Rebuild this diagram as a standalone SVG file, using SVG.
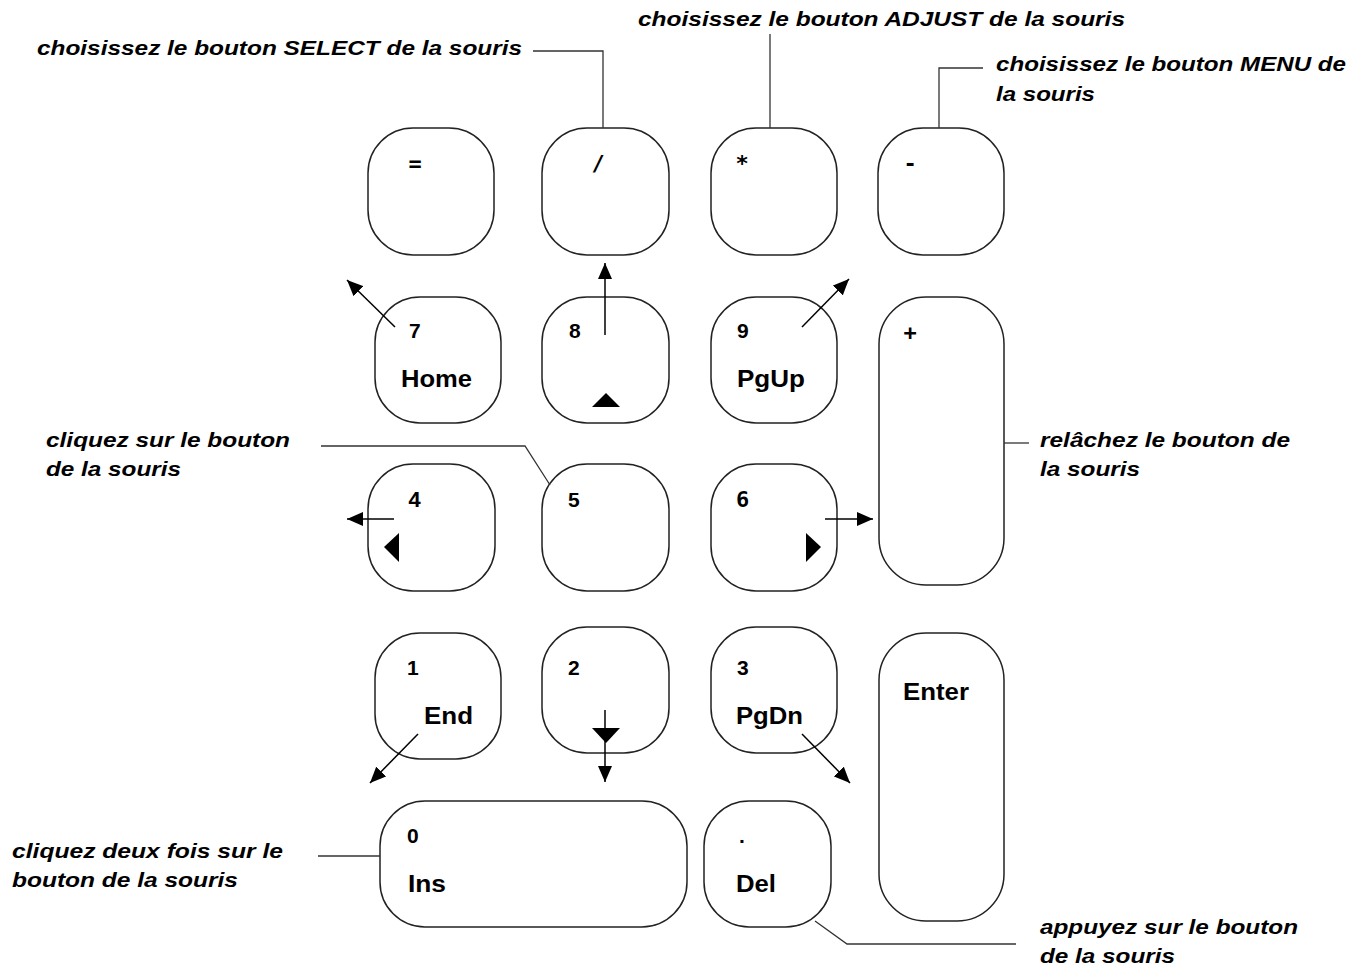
<svg xmlns="http://www.w3.org/2000/svg" width="1363" height="969" viewBox="0 0 1363 969">
<style>
.key{fill:#fff;stroke:#222;stroke-width:1.5}
.sym{font-family:"DejaVu Sans Mono","Liberation Mono",monospace;font-weight:bold;font-size:22px;fill:#000}
.dig{font-family:"Liberation Sans",Arial,sans-serif;font-weight:bold;font-size:21px;fill:#000}
.word{font-family:"Liberation Sans",Arial,sans-serif;font-weight:bold;font-size:23px;fill:#000}
.lbl{font-family:"Liberation Sans",Arial,sans-serif;font-weight:bold;font-style:italic;font-size:21px;fill:#000}
.lead{fill:none;stroke:#333;stroke-width:1.3}
.arr{fill:none;stroke:#000;stroke-width:1.5;marker-end:url(#ah)}
.tri{fill:#000}
</style>
<defs>
<marker id="ah" markerUnits="userSpaceOnUse" markerWidth="16" markerHeight="14" viewBox="0 0 16 14" refX="16" refY="7" orient="auto">
<path d="M0,0 L16,7 L0,14 z" fill="#000"/>
</marker>
</defs>
<rect width="1363" height="969" fill="#fff"/>

<g id="key-eq"><rect class="key" x="368" y="128" width="126" height="127" rx="45"/><text class="sym" x="415" y="171" text-anchor="middle">=</text></g>
<g id="key-slash"><rect class="key" x="542" y="128" width="127" height="127" rx="45"/><text class="sym" x="598" y="171" text-anchor="middle">/</text></g>
<g id="key-star"><rect class="key" x="711" y="128" width="126" height="127" rx="45"/><text class="sym" x="742" y="171" text-anchor="middle">*</text></g>
<g id="key-minus"><rect class="key" x="878" y="128" width="126" height="127" rx="45"/><text class="sym" x="910" y="171" text-anchor="middle">-</text></g>

<g id="key-7"><rect class="key" x="375" y="297" width="126" height="126" rx="45"/><text class="dig" x="409" y="338">7</text><text class="word" x="401" y="387" textLength="71" lengthAdjust="spacingAndGlyphs">Home</text></g>
<g id="key-8"><rect class="key" x="542" y="297" width="127" height="126" rx="45"/><text class="dig" x="569" y="338">8</text><polygon class="tri" points="592,407 620,407 606,393"/></g>
<g id="key-9"><rect class="key" x="711" y="297" width="126" height="126" rx="45"/><text class="dig" x="737" y="338">9</text><text class="word" x="737" y="387" textLength="68" lengthAdjust="spacingAndGlyphs">PgUp</text></g>
<g id="key-plus"><rect class="key" x="879" y="297" width="125" height="288" rx="47"/><text class="sym" x="910" y="340" text-anchor="middle">+</text></g>

<g id="key-4"><rect class="key" x="368" y="464" width="127" height="127" rx="45"/><text class="sym" x="408" y="507" style="font-family:'Liberation Mono',monospace">4</text><polygon class="tri" points="399,533 399,562 384,547"/></g>
<g id="key-5"><rect class="key" x="542" y="464" width="127" height="127" rx="45"/><text class="dig" x="568" y="507">5</text></g>
<g id="key-6"><rect class="key" x="711" y="464" width="126" height="127" rx="45"/><text class="sym" x="736" y="507">6</text><polygon class="tri" points="806,533 806,562 821,547"/></g>

<g id="key-1"><rect class="key" x="375" y="633" width="126" height="126" rx="45"/><text class="dig" x="407" y="675">1</text><text class="word" x="424" y="724" textLength="49" lengthAdjust="spacingAndGlyphs">End</text></g>
<g id="key-2"><rect class="key" x="542" y="627" width="127" height="126" rx="45"/><text class="dig" x="568" y="675">2</text><polygon class="tri" points="592,728 620,728 606,743"/></g>
<g id="key-3"><rect class="key" x="711" y="627" width="126" height="126" rx="45"/><text class="dig" x="737" y="675">3</text><text class="word" x="736" y="724" textLength="67" lengthAdjust="spacingAndGlyphs">PgDn</text></g>
<g id="key-enter"><rect class="key" x="879" y="633" width="125" height="288" rx="47"/><text class="word" x="903" y="700" textLength="66" lengthAdjust="spacingAndGlyphs">Enter</text></g>

<g id="key-0"><rect class="key" x="380" y="801" width="307" height="126" rx="45"/><text class="dig" x="407" y="843">0</text><text class="word" x="408" y="892" textLength="38" lengthAdjust="spacingAndGlyphs">Ins</text></g>
<g id="key-del"><rect class="key" x="704" y="801" width="127" height="126" rx="45"/><text class="dig" x="739" y="843">.</text><text class="word" x="736" y="892" textLength="40" lengthAdjust="spacingAndGlyphs">Del</text></g>

<g id="connectors">
<polyline class="lead" points="533,51 603,51 603,128"/>
<polyline class="lead" points="770,34 770,128"/>
<polyline class="lead" points="983,68 939,68 939,128"/>
<polyline class="lead" points="321,446 525,446 550,485"/>
<polyline class="lead" points="1004,443 1029,443"/>
<polyline class="lead" points="318,856 380,856"/>
<polyline class="lead" points="815,921 847,944 1016,944"/>
<line class="arr" x1="395" y1="327" x2="347" y2="280"/>
<line class="arr" x1="605" y1="335" x2="605" y2="263"/>
<line class="arr" x1="802" y1="327" x2="849" y2="279"/>
<line class="arr" x1="394" y1="519" x2="347" y2="519"/>
<line class="arr" x1="825" y1="519" x2="873" y2="519"/>
<line class="arr" x1="418" y1="734" x2="370" y2="783"/>
<line class="arr" x1="605" y1="710" x2="605" y2="782"/>
<line class="arr" x1="802" y1="734" x2="850" y2="783"/>
</g>

<g id="labels">
<text class="lbl" x="37" y="55" textLength="485" lengthAdjust="spacingAndGlyphs">choisissez le bouton SELECT de la souris</text>
<text class="lbl" x="638" y="26" textLength="487" lengthAdjust="spacingAndGlyphs">choisissez le bouton ADJUST de la souris</text>
<text class="lbl" x="996" y="71" textLength="350" lengthAdjust="spacingAndGlyphs">choisissez le bouton MENU de</text>
<text class="lbl" x="996" y="101" textLength="99" lengthAdjust="spacingAndGlyphs">la souris</text>
<text class="lbl" x="46" y="447" textLength="244" lengthAdjust="spacingAndGlyphs">cliquez sur le bouton</text>
<text class="lbl" x="46" y="476" textLength="135" lengthAdjust="spacingAndGlyphs">de la souris</text>
<text class="lbl" x="1040" y="447" textLength="250" lengthAdjust="spacingAndGlyphs">relâchez le bouton de</text>
<text class="lbl" x="1040" y="476" textLength="100" lengthAdjust="spacingAndGlyphs">la souris</text>
<text class="lbl" x="12" y="858" textLength="271" lengthAdjust="spacingAndGlyphs">cliquez deux fois sur le</text>
<text class="lbl" x="12" y="887" textLength="226" lengthAdjust="spacingAndGlyphs">bouton de la souris</text>
<text class="lbl" x="1040" y="934" textLength="258" lengthAdjust="spacingAndGlyphs">appuyez sur le bouton</text>
<text class="lbl" x="1040" y="963" textLength="135" lengthAdjust="spacingAndGlyphs">de la souris</text>
</g>
</svg>
